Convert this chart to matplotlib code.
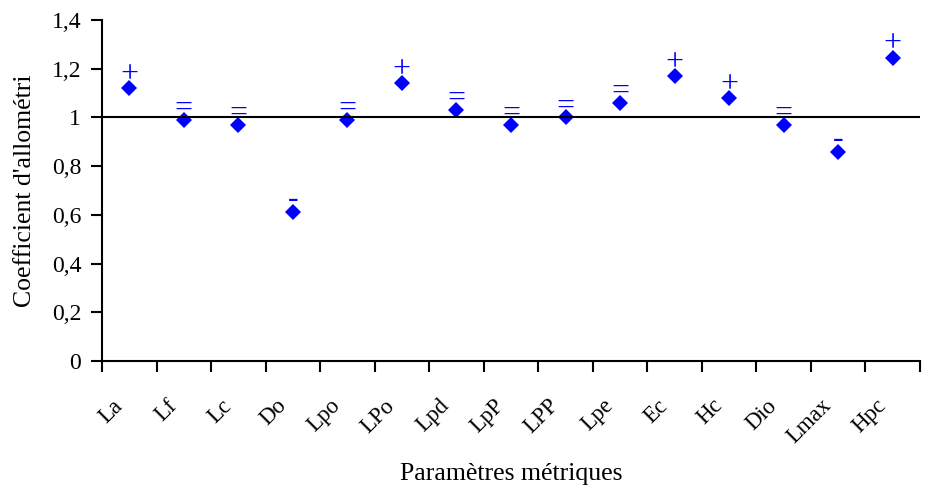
import matplotlib.pyplot as plt
from matplotlib.ticker import FixedLocator, FuncFormatter
import matplotlib.transforms as mtransforms

plt.rcParams['font.family'] = ['Liberation Serif', 'DejaVu Serif']

params = ['La', 'Lf', 'Lc', 'Do', 'Lpo', 'LPo', 'Lpd', 'LpP', 'LPP', 'Lpe',
          'Ec', 'Hc', 'Dio', 'Lmax', 'Hpc']
coef = [1.12, 0.99, 0.97, 0.61, 0.99, 1.14, 1.03, 0.97, 1.00, 1.06,
        1.17, 1.08, 0.97, 0.86, 1.245]
allometry = ['+', '=', '=', '-', '=', '+', '=', '=', '=', '=',
             '+', '+', '=', '-', '+']

# vertical gap (points) between the marker and its sign
sign_gap = {'+': 9.8, '=': 7.5, '-': 9.0}

fig = plt.figure(figsize=(9.3, 4.9), dpi=100)
ax = fig.add_axes([102 / 930, 1 - 361 / 490, 818 / 930, 341 / 490])

x = [i + 0.5 for i in range(len(params))]
ax.plot(x, coef, linestyle='none', marker='D', markersize=8,
        color='#0000ff', markeredgewidth=0)

for xi, yi, s in zip(x, coef, allometry):
    ax.annotate(s, (xi, yi), xytext=(0, sign_gap[s]), textcoords='offset points',
                ha='center', va='center', color='#0000ff', fontsize=23)

ax.axhline(1, color='black', linewidth=1.5)

ax.set_xlim(0, len(params))
ax.set_ylim(0, 1.4)
ax.set_yticks([0, 0.2, 0.4, 0.6, 0.8, 1.0, 1.2, 1.4])
ax.yaxis.set_major_formatter(FuncFormatter(lambda v, p: ('%g' % round(v, 1)).replace('.', ',')))

ax.xaxis.set_major_locator(FixedLocator(range(len(params) + 1)))
ax.xaxis.set_major_formatter(FuncFormatter(lambda v, p: ''))
ax.xaxis.set_minor_locator(FixedLocator(x))
ax.set_xticklabels(params, minor=True)
ax.tick_params(axis='x', which='minor', length=0, pad=30, labelsize=16.5)
ax.tick_params(axis='both', which='major', direction='out', length=8,
               width=1.5, color='black', labelsize=17)
ax.tick_params(axis='y', which='major', pad=7)
offset = mtransforms.ScaledTranslation(-10 / 100, 0, fig.dpi_scale_trans)
for lab in ax.get_xticklabels(minor=True):
    lab.set_rotation(45)
    lab.set_rotation_mode('anchor')
    lab.set_ha('right')
    lab.set_va('center')
    lab.set_transform(lab.get_transform() + offset)

for side in ['top', 'right']:
    ax.spines[side].set_visible(False)
for side in ['left', 'bottom']:
    ax.spines[side].set_linewidth(1.5)

ax.set_ylabel("Coefficient d'allométri", fontsize=18.5, labelpad=11)
ax.set_xlabel('Paramètres métriques', fontsize=18.5, labelpad=11)

fig.savefig('out.png', dpi=100)
